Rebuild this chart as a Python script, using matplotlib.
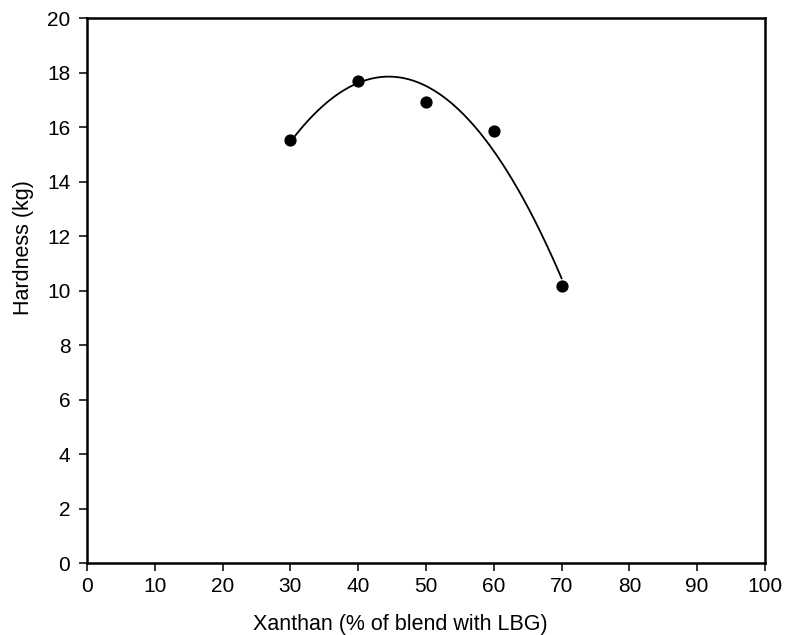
import matplotlib
matplotlib.use('Agg')
import matplotlib.pyplot as plt
import numpy as np

# Hardness vs xanthan share of the xanthan/LBG blend
xanthan_pct = [30, 40, 50, 60, 70]
hardness_kg = [15.54, 17.69, 16.92, 15.88, 10.19]

x_ticks = list(range(0, 101, 10))
y_ticks = list(range(0, 21, 2))

plt.rcParams['font.family'] = ['Liberation Sans', 'DejaVu Sans']

fig = plt.figure(figsize=(7.85, 6.35), dpi=100)
ax = fig.add_axes([0.1108, 0.1129, 0.8637, 0.858])

# quadratic trend line fitted to the measured points
coef = np.polyfit(xanthan_pct, hardness_kg, 2)
xs = np.linspace(min(xanthan_pct), max(xanthan_pct), 200)
ax.plot(xs, np.polyval(coef, xs), color='black', linewidth=1.3, zorder=2)

ax.plot(xanthan_pct, hardness_kg, 'o', color='black', markersize=7.8, zorder=3)

ax.set_xlim(0, 100)
ax.set_ylim(0, 20)
ax.set_xticks(x_ticks)
ax.set_yticks(y_ticks)
ax.tick_params(direction='out', length=6, width=1.1, labelsize=15,
               top=False, right=False)
ax.tick_params(axis='x', pad=4)
ax.tick_params(axis='y', pad=6)

for side in ['left', 'bottom', 'top', 'right']:
    ax.spines[side].set_linewidth(1.8)

# labels sit a little off-centre in the original
ax.set_xlabel('Xanthan (% of blend with LBG)', fontsize=15.5)
ax.set_ylabel('Hardness (kg)', fontsize=15.5)
ax.xaxis.set_label_coords(0.462, -0.093)
ax.yaxis.set_label_coords(-0.078, 0.579)

fig.savefig('out.png', dpi=100, facecolor='white')
